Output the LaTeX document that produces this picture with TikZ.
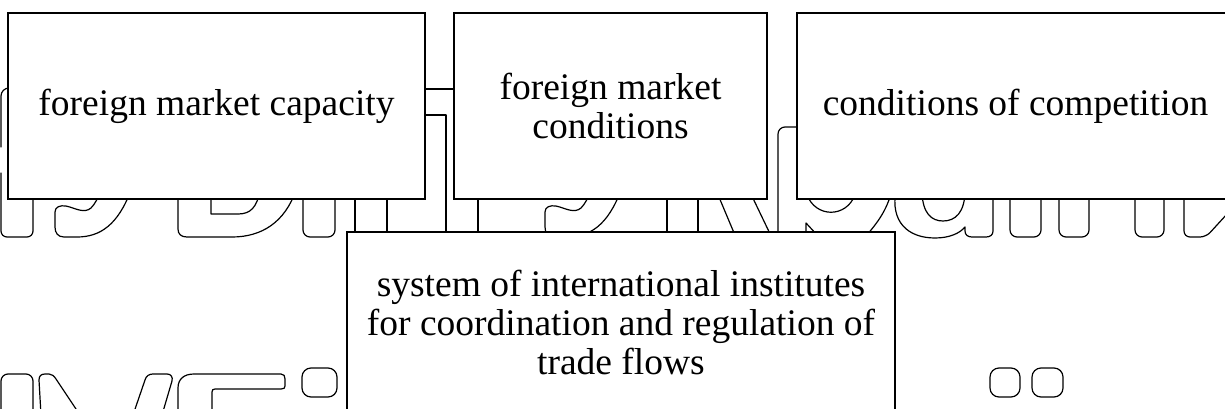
\documentclass[tikz,border=0pt]{standalone}
\usepackage{fontspec}
\setmainfont{Liberation Serif}
\tikzset{
  wm/.style={line width=1.2pt, line join=round, line cap=round},
  box/.style={draw, line width=2pt, fill=white, inner sep=0pt, align=center,
    font=\fontsize{37.5}{39}\selectfont},
}
\begin{document}
\begin{tikzpicture}[x=1pt,y=-1pt]
\useasboundingbox (0,0) rectangle (1225,409);
% ---- background outline lettering (top row)
\draw[wm, rounded corners=8pt] (12,88) -- (1,88) -- (1,147);
\draw[wm, rounded corners=6pt] (1,173) -- (1,237) -- (33,237) -- (33,190);
\draw[wm] (131,190) .. controls (118,225) and (100,237) .. (77,237) -- (64,237)
  .. controls (58,237) and (55,233) .. (55,227) -- (55,212)
  .. controls (55,207) and (60,205) .. (66,206) .. controls (75,208) and (84,214) .. (91,208)
  .. controls (95,204) and (98,198) .. (101,190);
\draw[wm] (178,190) -- (178,229) .. controls (178,234) and (181,237) .. (187,237) -- (232,237)
  .. controls (262,237) and (285,222) .. (296,190);
\draw[wm] (211,190) -- (211,214) -- (238,214) .. controls (250,214) and (257,208) .. (260,190);
\draw[wm, rounded corners=7pt] (303,190) -- (303,237) -- (335,237) -- (335,190);
\draw[wm] (355,190) -- (355,240);
\draw[wm] (387,190) -- (387,240);
\draw[wm] (420,89) -- (460,89);
\draw[wm] (420,115) -- (446,115) -- (446,240);
\draw[wm] (478,190) -- (478,240);
\begin{scope}[xshift=490pt]
\draw[wm] (131,190) .. controls (118,225) and (100,237) .. (77,237) -- (64,237)
  .. controls (58,237) and (55,233) .. (55,227) -- (55,212)
  .. controls (55,207) and (60,205) .. (66,206) .. controls (75,208) and (84,214) .. (91,208)
  .. controls (95,204) and (98,198) .. (101,190);
\end{scope}
\draw[wm] (667,190) -- (667,240);
\draw[wm] (698,190) -- (698,240);
\draw[wm] (716,190) -- (737,240);
\draw[wm] (749,190) -- (773,240);
\draw[wm, rounded corners=7pt] (805,127) -- (778,127) -- (778,240);
\draw[wm] (806,240) -- (806,223) -- (818,236);
\draw[wm] (807,195) .. controls (816,218) and (846,218) .. (855,195);
\draw[wm] (866,236) .. controls (878,222) and (887,210) .. (892,190);
\draw[wm] (896,190) .. controls (890,222) and (908,238) .. (935,238)
  .. controls (950,238) and (960,233) .. (965,227) -- (965,231)
  .. controls (965,235) and (968,237) .. (972,237) -- (986,237)
  .. controls (990,237) and (993,235) .. (993,231) -- (993,190);
\draw[wm] (922,190) .. controls (922,214) and (932,221) .. (943,221)
  .. controls (955,221) and (965,213) .. (965,190);
\draw[wm, rounded corners=7pt] (1010,190) -- (1010,237) -- (1041,237) -- (1041,190);
\draw[wm, rounded corners=7pt] (1059,190) -- (1059,237) -- (1089,237) -- (1089,190);
\draw[wm, rounded corners=7pt] (1135,190) -- (1135,237) -- (1164,237) -- (1164,190);
\draw[wm, rounded corners=6pt] (1184,190) -- (1184,237) -- (1206,237) -- (1249,190);
% ---- background outline lettering (bottom row)
\draw[wm, rounded corners=7pt] (1,415) -- (1,374) -- (33,374) -- (33,415);
\draw[wm] (41,415) -- (39,380) .. controls (39,376) and (41,374) .. (45,374) -- (49,374)
  .. controls (52,374) and (54,376) .. (56,379) -- (80,415);
\draw[wm] (133,415) -- (145,380) .. controls (146,376) and (149,374) .. (153,374) -- (167,374)
  .. controls (171,374) and (173,377) .. (172,381) -- (162,415);
\draw[wm] (178,415) -- (178,388) .. controls (178,379) and (184,374) .. (194,374) -- (281,374)
  .. controls (284,374) and (285,376) .. (285,379) -- (285,386)
  .. controls (285,388) and (284,389) .. (281,389) -- (215,389)
  .. controls (213,389) and (212,390) .. (212,392) -- (212,415);
\draw[wm, rounded corners=9pt] (302,368) rectangle (337,397);
\draw[wm, rounded corners=9pt] (990,368) rectangle (1020,397);
\draw[wm, rounded corners=9pt] (1032,368) rectangle (1063,397);
% ---- boxes
\node[box, minimum width=417pt, minimum height=186pt] (capacity) at (216.5,106) {foreign market capacity};
\node[box, minimum width=313pt, minimum height=186pt] (conditions) at (610.5,106) {foreign market\\conditions};
\node[box, minimum width=437pt, minimum height=186pt] (competition) at (1015.5,106) {conditions of competition};
\node[box, minimum width=548pt, minimum height=181pt] (institutes) at (621,322.5) {system of international institutes\\for coordination and regulation of\\trade flows};
\end{tikzpicture}
\end{document}
